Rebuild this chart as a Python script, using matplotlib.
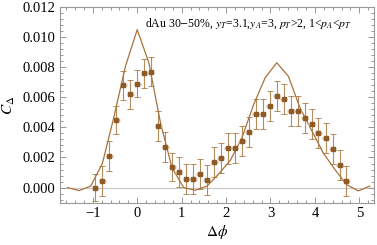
import matplotlib
matplotlib.use("Agg")
import matplotlib.pyplot as plt
from matplotlib.ticker import MultipleLocator

# data points (binned correlation)
dphi = [-0.94, -0.79, -0.63, -0.47, -0.31, -0.16, 0.00, 0.16, 0.31, 0.47,
        0.63, 0.79, 0.94, 1.10, 1.26, 1.41, 1.57, 1.73, 1.88, 2.04,
        2.20, 2.36, 2.51, 2.67, 2.83, 2.98, 3.14, 3.30, 3.46, 3.61,
        3.77, 3.93, 4.08, 4.24, 4.40, 4.56, 4.71]
c_delta = [0.0000, 0.00045, 0.0021, 0.0045, 0.0068, 0.0062, 0.0069, 0.0076, 0.0077, 0.0041,
           0.0027, 0.00136, 0.00106, 0.00056, 0.00056, 0.00089, 0.00051, 0.00169, 0.00195, 0.0026,
           0.00266, 0.0031, 0.0037, 0.0049, 0.0049, 0.0054, 0.0061, 0.0059, 0.0051, 0.0051,
           0.0046, 0.0042, 0.0036, 0.0033, 0.00255, 0.0015, 0.00045]
c_err = [0.0009, 0.0010, 0.0010, 0.00093, 0.00098, 0.00097, 0.00089, 0.00096, 0.00097, 0.0010,
         0.0010, 0.00094, 0.0010, 0.0010, 0.0010, 0.0010, 0.0010, 0.0010, 0.0010, 0.0010,
         0.0010, 0.0010, 0.0010, 0.0010, 0.0010, 0.0010, 0.0010, 0.0010, 0.0010, 0.0010,
         0.0010, 0.0010, 0.0010, 0.0010, 0.0010, 0.0010, 0.0010]
bin_half = [0.0785] * len(dphi)

# theory curve
theory_x = [-1.571, -1.309, -1.047, -0.785, -0.524, -0.262, 0.0, 0.262, 0.524, 0.785,
            1.047, 1.309, 1.571, 1.833, 2.094, 2.356, 2.618, 2.880, 3.142, 3.403,
            3.665, 3.927, 4.189, 4.451, 4.712, 4.974, 5.236]
theory_y = [0.0000, -0.0002, 0.0001, 0.0016, 0.0047, 0.0081, 0.0105, 0.0083, 0.0043, 0.0013,
            0.0000, -0.00018, 0.0001, 0.0009, 0.0018, 0.0033, 0.0055, 0.0073, 0.0083, 0.0074,
            0.0053, 0.0038, 0.0023, 0.0012, 0.0002, -0.00022, 0.0001]

plt.rcParams['font.family'] = ['Liberation Serif', 'DejaVu Serif']
plt.rcParams['mathtext.fontset'] = 'stix'

fig = plt.figure(figsize=(3.77, 2.45), dpi=100)
ax = fig.add_axes([0.159, 0.173, 0.833, 0.798])

ax.axhline(0, color='#c8c8c8', lw=0.8, zorder=1)
ax.plot(theory_x, theory_y, color='#a8723a', lw=0.9, zorder=2)

ax.errorbar(dphi, c_delta, xerr=bin_half, fmt='none', ecolor='#dcc3a6', elinewidth=2.0,
            capsize=0, zorder=3)
ax.errorbar(dphi, c_delta, yerr=c_err, fmt='none', ecolor='#a87840', elinewidth=0.8,
            capsize=2.2, capthick=0.7, alpha=0.85, zorder=4)
ax.plot(dphi, c_delta, 's', color='#8e5a26', ms=2.7, zorder=5)

ax.set_xlim(-1.74, 5.33)
ax.set_ylim(-0.001, 0.012)
ax.xaxis.set_major_locator(MultipleLocator(1))
ax.xaxis.set_minor_locator(MultipleLocator(0.2))
ax.yaxis.set_major_locator(MultipleLocator(0.002))
ax.yaxis.set_minor_locator(MultipleLocator(0.0004))
ax.yaxis.set_major_formatter(matplotlib.ticker.FormatStrFormatter('%.3f'))
ax.tick_params(which='both', direction='in', top=True, right=True, labelsize=10.5,
               color='#888888', width=0.6)
ax.tick_params(which='major', length=4)
ax.tick_params(which='minor', length=2)
for s in ax.spines.values():
    s.set_color('#999999')
    s.set_linewidth(0.8)

ax.set_xlabel(r'$\Delta\phi$', fontsize=11, labelpad=2)
ax.set_ylabel(r'$C_\Delta$', fontsize=11, labelpad=4)

ax.text(0.929, 0.915, r'dAu 30$-$50%, $y_T$=3.1,$y_A$=3, $p_T$>2, 1<$p_A$<$p_T$',
        transform=ax.transAxes, ha='right', va='center', fontsize=8.5)

fig.savefig('out.png', dpi=100)
